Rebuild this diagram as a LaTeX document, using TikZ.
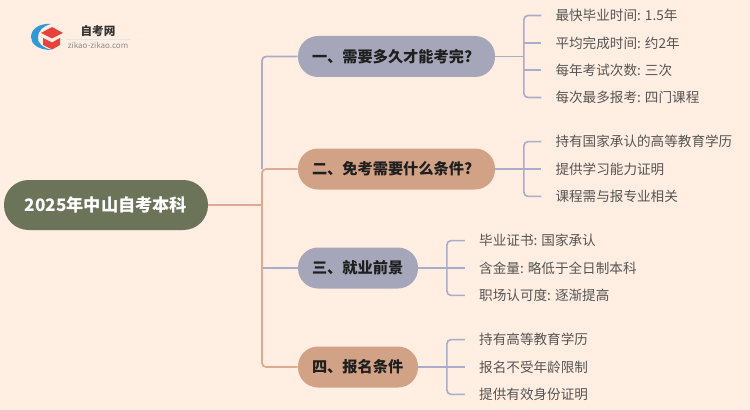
\documentclass[tikz,border=0pt]{standalone}
\usepackage{fontspec}
\setmainfont{Noto Sans CJK SC}
\usetikzlibrary{positioning,matrix}
\definecolor{paper}{HTML}{FFEEE1}
\definecolor{rootgreen}{HTML}{6B7359}
\definecolor{slate}{HTML}{A6A6BA}
\definecolor{clay}{HTML}{D2A286}
\definecolor{slateline}{HTML}{A9ADC9}
\definecolor{clayline}{HTML}{DDAB92}
\definecolor{leafgray}{HTML}{555555}
\definecolor{logoblue}{HTML}{2F9AD6}
\definecolor{logored}{HTML}{E8423C}
\tikzset{
    rootnode/.style={fill=rootgreen, text=white, font=\fontsize{12.9pt}{15pt}\selectfont\bfseries,
        minimum width=153pt, minimum height=37.5pt, rounded corners=18.5pt, inner sep=0pt},
    branch/.style={font=\fontsize{11.4pt}{14pt}\selectfont\bfseries, text=black!88, align=left,
        minimum height=30.75pt, rounded corners=15pt, inner ysep=0pt, inner xsep=10.5pt},
    leafnode/.style={anchor=west, font=\fontsize{10.2pt}{13pt}\selectfont, text=leafgray,
        minimum height=20.5pt, inner ysep=0pt, inner xsep=10.5pt},
    leaves/.style={matrix of nodes, nodes={leafnode}, inner sep=0pt, row sep=0pt},
    trunk/.style={line width=1.3pt, rounded corners=3pt},
    leafline/.style={slateline, line width=1.2pt, rounded corners=3pt}
}

\begin{document}
\begin{tikzpicture}[x=0.75pt, y=-0.75pt]
    \fill[paper] (0,0) rectangle (750,410);
    \useasboundingbox (0,0) rectangle (750,410);

    % logo
    \fill[logoblue] (51,24) .. controls (38,23) and (31,30) .. (31,37) .. controls (31,44) and (38,50) .. (52,50)
        .. controls (43,48) and (37,43) .. (38,37) .. controls (38,31) and (43,26) .. (51,24);
    \fill[logored] (41,33) -- (52,27) -- (63,33) -- (52,38.5) -- cycle;
    \fill[logored] (43,38) -- (52,42.5) -- (60,38) -- (60,45) -- (52,49.5) -- (43,45) -- cycle;
    \node[font=\fontsize{8.7pt}{10pt}\selectfont\bfseries, text=black!80] (logotitle) at (98,31) {自考网};
    \node[font=\fontsize{6pt}{7pt}\selectfont, text=black!45] (logourl) at (98,45) {zikao-zikao.com};
    \draw[black!10, line width=0.4pt] (66,39) -- (131,39);

    \node[rootnode] (root) at (106,205) {2025年中山自考本科};

    \node[branch, fill=slate, text width=126.75pt] (q1) at (396.5,56.5) {一、需要多久才能考完?};
    \node[branch, fill=clay, text width=126.75pt] (q2) at (396.5,169) {二、免考需要什么条件?};
    \node[branch, fill=slate, text width=69pt] (q3) at (358,268) {三、就业前景};
    \node[branch, fill=clay, text width=69pt] (q4) at (358,367) {四、报名条件};

    \matrix (A) [leaves, right=34.5pt of q1]{
        最快毕业时间: 1.5年\\
        平均完成时间: 约2年\\
        每年考试次数: 三次\\
        每次最多报考: 四门课程\\
    };
    \matrix (B) [leaves, right=34.5pt of q2]{
        持有国家承认的高等教育学历\\
        提供学习能力证明\\
        课程需与报专业相关\\
    };
    \matrix (C) [leaves, right=35pt of q3]{
        毕业证书: 国家承认\\
        含金量: 略低于全日制本科\\
        职场认可度: 逐渐提高\\
    };
    \matrix (D) [leaves, right=35pt of q4]{
        持有高等教育学历\\
        报名不受年龄限制\\
        提供有效身份证明\\
    };

    % trunk
    \coordinate (hub) at (262,205);
    \draw[trunk, slateline] (q1.west) -| (hub |- q2.west);
    \draw[trunk, slateline] (q3.west) -- (hub |- q3.west);
    \draw[trunk, clayline] (q2.west) -| (hub) |- (q4.west);
    \draw[trunk, clayline] (root.east) -- (hub);

    % brackets
    \foreach \m/\q/\n in {A/q1/4,B/q2/3,C/q3/3,D/q4/3}{
        \pgfmathtruncatemacro{\inner}{\n - 1}
        \path (\q.east) -- ++(21.5pt,0) coordinate (stem\m);
        \draw[leafline] (\q.east) -- (stem\m);
        \draw[leafline] (\m-1-1.west) -| (stem\m) |- (\m-\n-1.west);
        \foreach \i in {2,...,\inner}{
            \draw[leafline] (stem\m |- \m-\i-1.west) -- (\m-\i-1.west);
        }
    }
\end{tikzpicture}
\end{document}
